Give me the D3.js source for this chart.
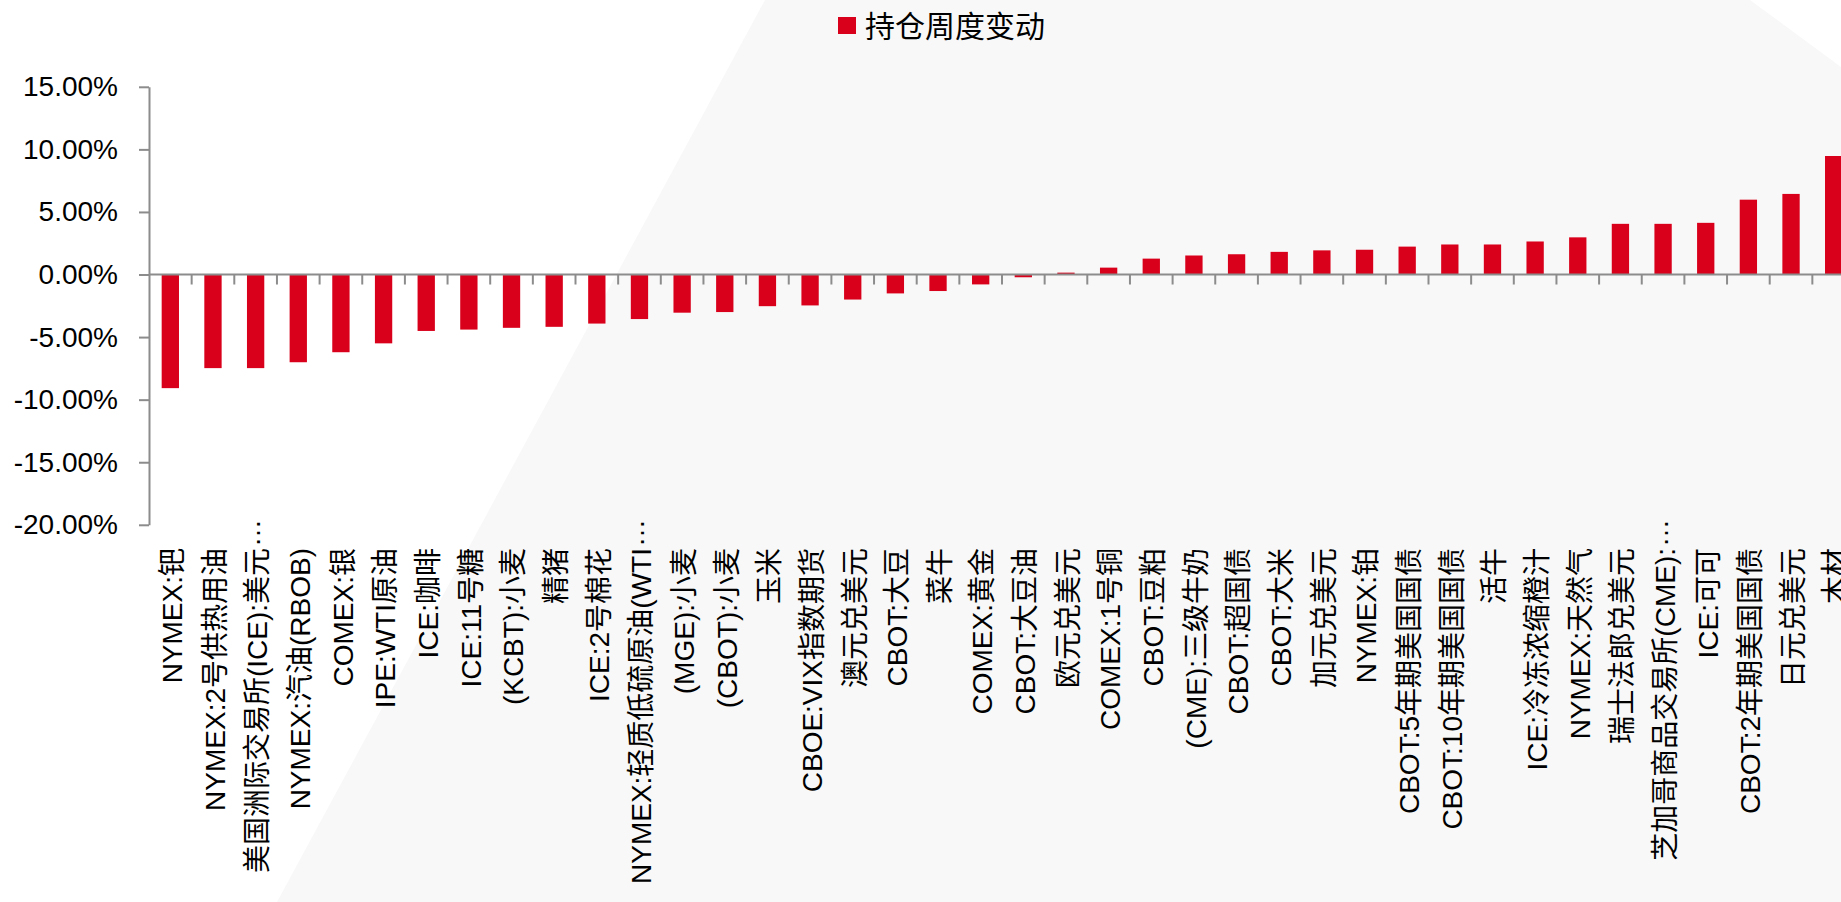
<!DOCTYPE html>
<html>
<head>
<meta charset="utf-8">
<script src="https://cdn.jsdelivr.net/npm/d3@7"></script>
<style>
  html, body { margin: 0; padding: 0; background: #ffffff; }
  svg { display: block; }
</style>
</head>
<body>
<svg id="chart" width="1841" height="902"></svg>
<script>
// ---- data ----
const categories = [
  "NYMEX:钯", "NYMEX:2号供热用油", "美国洲际交易所(ICE):美元…", "NYMEX:汽油(RBOB)", "COMEX:银",
  "IPE:WTI原油", "ICE:咖啡", "ICE:11号糖", "(KCBT):小麦", "精猪",
  "ICE:2号棉花", "NYMEX:轻质低硫原油(WTI…", "(MGE):小麦", "(CBOT):小麦", "玉米",
  "CBOE:VIX指数期货", "澳元兑美元", "CBOT:大豆", "菜牛", "COMEX:黄金",
  "CBOT:大豆油", "欧元兑美元", "COMEX:1号铜", "CBOT:豆粕", "(CME):三级牛奶",
  "CBOT:超国债", "CBOT:大米", "加元兑美元", "NYMEX:铂", "CBOT:5年期美国国债",
  "CBOT:10年期美国国债", "活牛", "ICE:冷冻浓缩橙汁", "NYMEX:天然气", "瑞士法郎兑美元",
  "芝加哥商品交易所(CME):…", "ICE:可可", "CBOT:2年期美国国债", "日元兑美元", "木材"
];
// weekly change of open interest, percent
const weeklyChange = [
  -9.08, -7.48, -7.48, -7.01, -6.21,
  -5.50, -4.51, -4.40, -4.26, -4.18,
  -3.92, -3.56, -3.05, -3.00, -2.53,
  -2.47, -2.00, -1.51, -1.32, -0.79,
  -0.22, 0.15, 0.55, 1.27, 1.52,
  1.62, 1.81, 1.93, 1.98, 2.23,
  2.40, 2.40, 2.64, 2.97, 4.05,
  4.05, 4.13, 5.98, 6.44, 9.47
];
const yTicks = [0.15, 0.10, 0.05, 0.00, -0.05, -0.10, -0.15, -0.20];
const seriesName = "持仓周度变动";

// ---- setup ----
const svg = d3.select("#chart");
const barColor = "#d9001b";
const axisColor = "#8c8c8c";
const latinCjk = "'Liberation Sans', 'Noto Sans CJK SC', sans-serif";

// decorative background shape
svg.append("polygon")
  .attr("points", [[765,0],[1750,0],[1841,67],[1841,902],[277,902]].map(p => p.join(",")).join(" "))
  .attr("fill", "#f8f8f8");

const x0 = 149, step = 42.65;
const x = d3.scaleBand()
  .domain(categories)
  .range([x0, x0 + step * categories.length])
  .paddingInner(0.594)
  .paddingOuter(0.297);

const y = d3.scaleLinear().domain([-0.20, 0.15]).range([524.8, 86.8]);

const loc = d3.formatLocale({decimal: ".", thousands: ",", grouping: [3], currency: ["", ""], minus: "-"});
const fmt = loc.format(".2%");

// bars
svg.append("g").selectAll("rect")
  .data(categories.map((c, i) => ({c, v: weeklyChange[i] / 100})))
  .join("rect")
  .attr("x", d => x(d.c))
  .attr("width", x.bandwidth())
  .attr("y", d => y(Math.max(0, d.v)))
  .attr("height", d => Math.abs(y(d.v) - y(0)))
  .attr("fill", barColor);

// y axis
const yAxis = svg.append("g")
  .attr("transform", `translate(${x0},0)`)
  .call(d3.axisLeft(y).tickValues(yTicks).tickFormat(fmt).tickSize(10).tickSizeOuter(0).tickPadding(21));
yAxis.select(".domain").attr("stroke", axisColor).attr("stroke-width", 2);
yAxis.selectAll(".tick line").attr("stroke", axisColor).attr("stroke-width", 2);
yAxis.selectAll(".tick text")
  .attr("fill", "#000")
  .style("font-family", "'Liberation Sans', Arial, sans-serif")
  .style("font-size", "28px");

// x axis (zero line) with boundary ticks
const xAxisG = svg.append("g");
xAxisG.append("line")
  .attr("x1", x0).attr("x2", x0 + step * categories.length)
  .attr("y1", y(0)).attr("y2", y(0))
  .attr("stroke", axisColor).attr("stroke-width", 2);
xAxisG.selectAll("line.bt")
  .data(categories.slice(1))
  .join("line")
  .attr("class", "bt")
  .attr("x1", d => x(d) - x.step() * x.paddingInner() / 2)
  .attr("x2", d => x(d) - x.step() * x.paddingInner() / 2)
  .attr("y1", y(0)).attr("y2", y(0) + 10)
  .attr("stroke", axisColor).attr("stroke-width", 2);

// category labels (rotated, positioned below plot)
const labelTop = 548;
const lab = svg.append("g").selectAll("g")
  .data(categories)
  .join("g")
  .attr("transform", d => `translate(${x(d) + x.bandwidth() / 2 + 2},${labelTop}) rotate(-90)`);
lab.append("text")
  .text(d => d.endsWith("…") ? d.slice(0, -1) : d)
  .attr("text-anchor", "end")
  .attr("dy", "0.35em")
  .attr("fill", "#000")
  .style("font-family", latinCjk)
  .style("font-size", "28px");
lab.filter(d => d.endsWith("…")).append("text")
  .text("…")
  .attr("x", 1)
  .attr("dy", "0.1em")
  .attr("text-anchor", "start")
  .attr("fill", "#000")
  .style("font-family", "'Liberation Sans', sans-serif")
  .style("font-size", "28px");

// legend
const leg = svg.append("g");
leg.append("rect").attr("x", 838).attr("y", 17).attr("width", 18).attr("height", 17).attr("fill", barColor);
leg.append("text")
  .text(seriesName)
  .attr("x", 865).attr("y", 24)
  .attr("dominant-baseline", "central")
  .attr("fill", "#000")
  .style("font-family", "'Noto Sans CJK SC', sans-serif")
  .style("font-size", "30px");
</script>
</body>
</html>
